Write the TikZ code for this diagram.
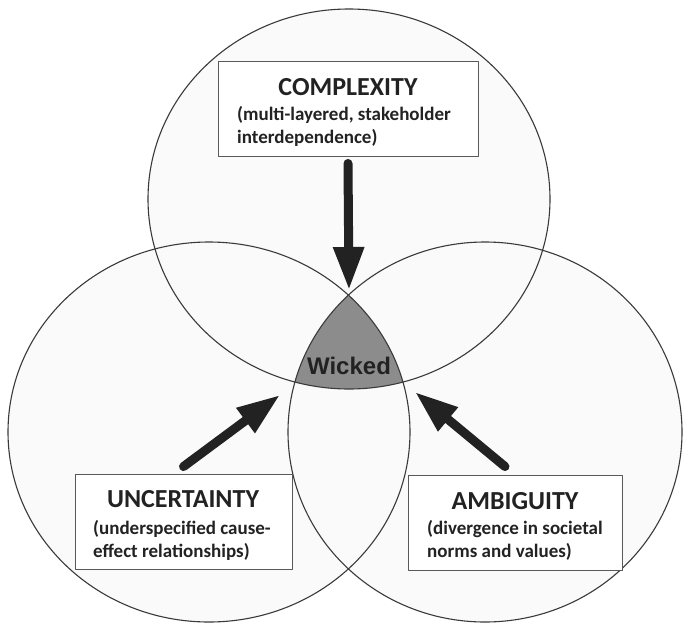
\documentclass[tikz,border=0pt]{standalone}
\usepackage{fontspec}
\setmainfont{Carlito}
\newfontfamily\wickedfont{Liberation Sans}
\usetikzlibrary{arrows.meta}
\definecolor{ringfill}{HTML}{FAFAFA}
\definecolor{ringline}{HTML}{3A3A3A}
\definecolor{wickedgray}{HTML}{8C8C8C}
\definecolor{ink}{HTML}{222222}

\begin{document}
\begin{tikzpicture}[x=1pt,y=-1pt,line join=round,
  ringsize/.style={x radius=201,y radius=190},
  ring/.style={draw=ringline,line width=1.1pt},
  factorbox/.style={draw=black!65,line width=0.9pt,fill=white,inner sep=0pt,
    minimum height=95pt},
  factorhead/.style={font=\bfseries\fontsize{26}{26}\selectfont,text=ink,
    inner sep=0pt,anchor=base},
  factortext/.style={font=\bfseries\fontsize{19}{23}\selectfont,text=ink,
    inner sep=0pt,align=left,anchor=base west},
  bigarrow/.style={line width=9pt,line cap=round,draw=ink,
    -{Triangle[length=43pt,width=29pt]}}]
\useasboundingbox (0,0) rectangle (683,624);
\fill[white] (0,0) rectangle (683,624);

\coordinate (toprim) at (349,199);
\coordinate (leftrim) at (209,432);
\coordinate (rightrim) at (485,432);

% the three rings
\fill[ringfill] (toprim) ellipse [ringsize];
\fill[ringfill] (leftrim) ellipse [ringsize];
\fill[ringfill] (rightrim) ellipse [ringsize,x radius=197];
\begin{scope}
  \clip (toprim) ellipse [ringsize];
  \clip (leftrim) ellipse [ringsize];
  \fill[wickedgray] (rightrim) ellipse [ringsize,x radius=197];
\end{scope}
\draw[ring] (toprim) ellipse [ringsize];
\draw[ring] (leftrim) ellipse [ringsize];
\draw[ring] (rightrim) ellipse [ringsize,x radius=197];

\node[font=\wickedfont\bfseries\fontsize{24}{24}\selectfont,text=ink] (wicked) at (349,366) {Wicked};

% boxes (text base sits on the last line)
\node[factorbox,minimum width=260pt] (cbox) at (348,108.5) {};
\node[factorhead] (chead) at (348,95) {COMPLEXITY};
\node[factortext] (ctext) at (237,143) {(multi-layered, stakeholder\\interdependence)};

\node[factorbox,minimum width=217pt] (ubox) at (183.5,521.5) {};
\node[factorhead] (uhead) at (183,507) {UNCERTAINTY};
\node[factortext] (utext) at (93,557) {(underspecified cause-\\effect relationships)};

\node[factorbox,minimum width=214pt] (abox) at (515,522.5) {};
\node[factorhead] (ahead) at (515,509) {AMBIGUITY};
\node[factortext] (atext) at (427,557) {(divergence in societal\\norms and values)};

% arrows into the wicked core
\coordinate (ctip) at (349,290);
\coordinate (utip) at (280,395);
\coordinate (atip) at (415,392);
\draw[bigarrow] ([yshift=-7pt]cbox.south) -- (ctip);
\draw[bigarrow] ([yshift=7pt]ubox.north) -- (utip);
\draw[bigarrow] ([xshift=-10pt,yshift=8pt]abox.north) -- (atip);
\end{tikzpicture}
\end{document}
